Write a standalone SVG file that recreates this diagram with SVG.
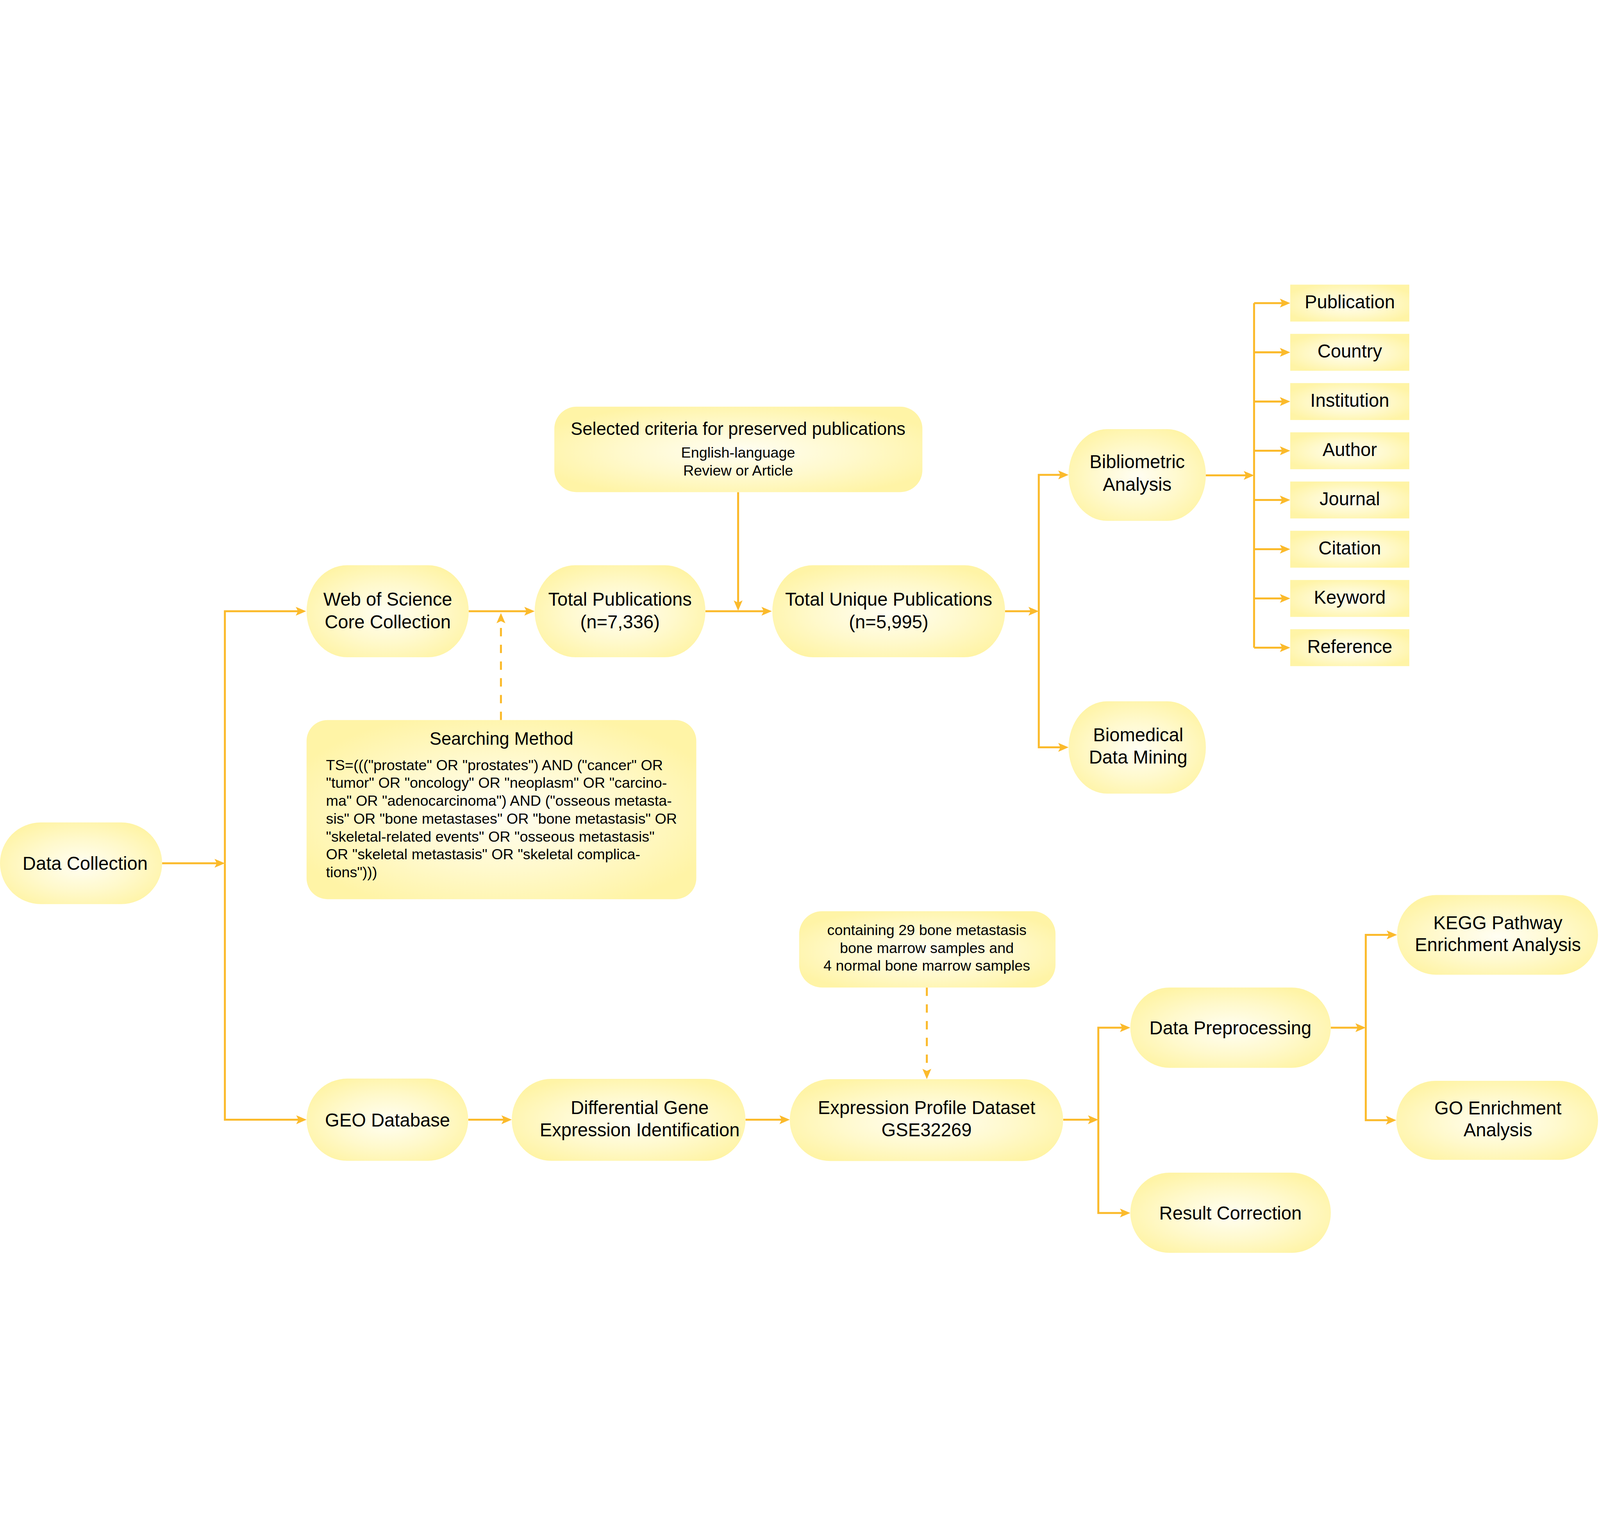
<svg xmlns="http://www.w3.org/2000/svg" width="6503" height="3936" viewBox="0 0 6503 3936">
<defs>
<radialGradient id="fill" cx="0.5" cy="0.52" r="0.58">
<stop offset="0" stop-color="#FFFEF3"/>
<stop offset="0.55" stop-color="#FFF9CC"/>
<stop offset="1" stop-color="#FFF4A6"/>
</radialGradient>
<marker id="ah" markerUnits="userSpaceOnUse" markerWidth="46" markerHeight="40" viewBox="-23 -20 46 40" refX="0" refY="0" orient="auto">
<path d="M20,0 L-22,-18 L-13,0 L-22,18 Z" fill="#FBBA2B"/>
</marker>
<style>
svg:root{width:100vw;height:100vh}
.n{fill:url(#fill);stroke:none}
.t{font-family:"Liberation Sans",Arial,sans-serif;font-size:75px;fill:#000;text-anchor:middle}
.s{font-family:"Liberation Sans",Arial,sans-serif;font-size:60px;fill:#000;text-anchor:middle}
.h{font-family:"Liberation Sans",Arial,sans-serif;font-size:72px;fill:#000;text-anchor:middle}
.b{font-family:"Liberation Sans",Arial,sans-serif;font-size:60px;fill:#000}
.c{fill:none;stroke:#FBBA2B;stroke-width:8}
.a{marker-end:url(#ah)}
.d{stroke-dasharray:34 34}
</style>
</defs>
<rect width="6503" height="3936" fill="#FFFFFF"/>

<g id="connectors">
<path class="c a" d="M659,2351 H894"/>
<path class="c a" d="M914,2351 V1327 H1224"/>
<path class="c a" d="M914,2351 V3393 H1226"/>
<path class="c a" d="M1905,1327 H2153"/>
<path class="c a d" d="M2036,1769 V1354"/>
<path class="c a" d="M2867,1327 H3117"/>
<path class="c a" d="M3000,843 V1305"/>
<path class="c a" d="M4085,1327 H4202"/>
<path class="c a" d="M4222,1327 V773 H4323"/>
<path class="c a" d="M4222,1327 V1880 H4323"/>
<path class="c a" d="M4901,775 H5077"/>
<path class="c" d="M5097,75 V1475"/>
<path class="c a" d="M5097,75 H5224"/>
<path class="c a" d="M5097,275 H5224"/>
<path class="c a" d="M5097,475 H5224"/>
<path class="c a" d="M5097,675 H5224"/>
<path class="c a" d="M5097,875 H5224"/>
<path class="c a" d="M5097,1075 H5224"/>
<path class="c a" d="M5097,1275 H5224"/>
<path class="c a" d="M5097,1475 H5224"/>
<path class="c a" d="M1903,3393 H2060"/>
<path class="c a" d="M3030,3393 H3190"/>
<path class="c a d" d="M3767,2856 V3208"/>
<path class="c a" d="M4321,3393 H4444"/>
<path class="c a" d="M4464,3393 V3019 H4574"/>
<path class="c a" d="M4464,3393 V3772 H4574"/>
<path class="c a" d="M5409,3019 H5531"/>
<path class="c a" d="M5551,3019 V2642 H5658"/>
<path class="c a" d="M5551,3019 V3395 H5655"/>
</g>

<g id="data-collection">
<rect class="n" x="0" y="2185" width="659" height="332" rx="166" ry="166"/>
<text class="t" x="346" y="2378">Data Collection</text>
</g>

<g id="web-of-science">
<rect class="n" x="1246" y="1140" width="659" height="374" rx="165" ry="187"/>
<text class="t" x="1576" y="1305">Web of Science</text>
<text class="t" x="1576" y="1396">Core Collection</text>
</g>

<g id="total-publications">
<rect class="n" x="2173" y="1140" width="694" height="374" rx="165" ry="187"/>
<text class="t" x="2520" y="1305">Total Publications</text>
<text class="t" x="2520" y="1396">(n=7,336)</text>
</g>

<g id="selected-criteria">
<rect class="n" x="2253" y="496" width="1496" height="347" rx="90" ry="90"/>
<text class="h" x="3000" y="610">Selected criteria for preserved publications</text>
<text class="s" x="3000" y="703">English-language</text>
<text class="s" x="3000" y="776">Review or Article</text>
</g>

<g id="total-unique-publications">
<rect class="n" x="3139" y="1140" width="946" height="374" rx="165" ry="187"/>
<text class="t" x="3612" y="1305">Total Unique Publications</text>
<text class="t" x="3612" y="1396">(n=5,995)</text>
</g>

<g id="searching-method">
<rect class="n" x="1246" y="1769" width="1584" height="728" rx="85" ry="85"/>
<text class="h" x="2038" y="1870">Searching Method</text>
<text class="b" x="1325" y="1973">TS=((("prostate" OR "prostates") AND ("cancer" OR</text>
<text class="b" x="1325" y="2045">"tumor" OR "oncology" OR "neoplasm" OR "carcino-</text>
<text class="b" x="1325" y="2118">ma" OR "adenocarcinoma") AND ("osseous metasta-</text>
<text class="b" x="1325" y="2190">sis" OR "bone metastases" OR "bone metastasis" OR</text>
<text class="b" x="1325" y="2263">"skeletal-related events" OR "osseous metastasis"</text>
<text class="b" x="1325" y="2335">OR "skeletal metastasis" OR "skeletal complica-</text>
<text class="b" x="1325" y="2408">tions")))</text>
</g>

<g id="bibliometric-analysis">
<rect class="n" x="4343" y="587" width="558" height="373" rx="157" ry="186"/>
<text class="t" x="4622" y="746">Bibliometric</text>
<text class="t" x="4622" y="837">Analysis</text>
</g>

<g id="biomedical-data-mining">
<rect class="n" x="4343" y="1693" width="558" height="375" rx="157" ry="187"/>
<text class="t" x="4626" y="1855">Biomedical</text>
<text class="t" x="4626" y="1945">Data Mining</text>
</g>

<g id="publication"><rect class="n" x="5244" y="0" width="484" height="150"/><text class="t" x="5486" y="96">Publication</text></g>
<g id="country"><rect class="n" x="5244" y="200" width="484" height="150"/><text class="t" x="5486" y="296">Country</text></g>
<g id="institution"><rect class="n" x="5244" y="400" width="484" height="150"/><text class="t" x="5486" y="496">Institution</text></g>
<g id="author"><rect class="n" x="5244" y="600" width="484" height="150"/><text class="t" x="5486" y="696">Author</text></g>
<g id="journal"><rect class="n" x="5244" y="800" width="484" height="150"/><text class="t" x="5486" y="896">Journal</text></g>
<g id="citation"><rect class="n" x="5244" y="1000" width="484" height="150"/><text class="t" x="5486" y="1096">Citation</text></g>
<g id="keyword"><rect class="n" x="5244" y="1200" width="484" height="150"/><text class="t" x="5486" y="1296">Keyword</text></g>
<g id="reference"><rect class="n" x="5244" y="1400" width="484" height="150"/><text class="t" x="5486" y="1496">Reference</text></g>

<g id="geo-database">
<rect class="n" x="1246" y="3226" width="657" height="334" rx="165" ry="167"/>
<text class="t" x="1575" y="3420">GEO Database</text>
</g>

<g id="differential-gene-expression">
<rect class="n" x="2080" y="3227" width="950" height="333" rx="160" ry="166"/>
<text class="t" x="2600" y="3370">Differential Gene</text>
<text class="t" x="2600" y="3460">Expression Identification</text>
</g>

<g id="containing-samples">
<rect class="n" x="3248" y="2546" width="1042" height="310" rx="93" ry="93"/>
<text class="s" x="3767" y="2643">containing 29 bone metastasis</text>
<text class="s" x="3767" y="2715">bone marrow samples and</text>
<text class="s" x="3767" y="2787">4 normal bone marrow samples</text>
</g>

<g id="expression-profile-dataset">
<rect class="n" x="3210" y="3228" width="1111" height="333" rx="165" ry="166"/>
<text class="t" x="3766" y="3370">Expression Profile Dataset</text>
<text class="t" x="3766" y="3460">GSE32269</text>
</g>

<g id="data-preprocessing">
<rect class="n" x="4594" y="2856" width="815" height="326" rx="159" ry="163"/>
<text class="t" x="5001" y="3046">Data Preprocessing</text>
</g>

<g id="result-correction">
<rect class="n" x="4594" y="3608" width="815" height="326" rx="159" ry="163"/>
<text class="t" x="5001" y="3799">Result Correction</text>
</g>

<g id="kegg-pathway">
<rect class="n" x="5678" y="2480" width="817" height="324" rx="159" ry="162"/>
<text class="t" x="6088" y="2619">KEGG Pathway</text>
<text class="t" x="6088" y="2708">Enrichment Analysis</text>
</g>

<g id="go-enrichment">
<rect class="n" x="5675" y="3235" width="820" height="321" rx="159" ry="160"/>
<text class="t" x="6088" y="3372">GO Enrichment</text>
<text class="t" x="6088" y="3461">Analysis</text>
</g>
</svg>
